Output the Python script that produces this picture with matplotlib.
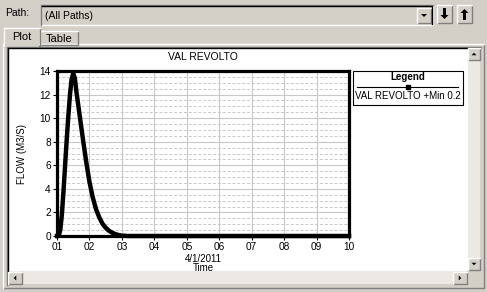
import matplotlib
matplotlib.use('Agg')
import matplotlib.pyplot as plt
from matplotlib.patches import Rectangle, Polygon
from matplotlib.ticker import MultipleLocator

plt.rcParams['font.family'] = ['Liberation Sans', 'DejaVu Sans']

# data (day of April 2011, flow m3/s)
days = [1.0, 1.05, 1.1, 1.15, 1.2, 1.25, 1.3, 1.35, 1.4, 1.45, 1.5, 1.55, 1.6, 1.7,
        1.8, 1.9, 2.0, 2.1, 2.2, 2.3, 2.4, 2.5, 2.6, 2.7, 2.8, 2.9, 3.0, 3.2, 4.0,
        6.0, 8.0, 10.0]
flow = [0.0, 0.0, 0.5, 1.8, 3.8, 6.0, 8.2, 10.2, 12.0, 13.3, 13.8, 13.4, 12.2, 10.2,
        8.2, 6.3, 4.6, 3.3, 2.3, 1.6, 1.05, 0.7, 0.45, 0.28, 0.16, 0.08, 0.03, 0.0,
        0.0, 0.0, 0.0, 0.0]
day_ticks = [1, 2, 3, 4, 5, 6, 7, 8, 9, 10]
day_labels = ['01', '02', '03', '04', '05', '06', '07', '08', '09', '10']
flow_ticks = [0, 2, 4, 6, 8, 10, 12, 14]

W, H = 487, 292
BG = '#d4d0c8'
DARK = '#808080'

fig = plt.figure(figsize=(W / 100, H / 100), dpi=100)
fig.patch.set_facecolor(BG)

# gui layer in pixel coordinates
g = fig.add_axes([0, 0, 1, 1])
g.set_xlim(0, W)
g.set_ylim(H, 0)
g.axis('off')


def box(x0, y0, x1, y1, fc=BG, sunken=False, z=1):
    g.add_patch(Rectangle((x0, y0), x1 - x0, y1 - y0, fc=fc, ec='none', zorder=z))
    hi, lo = ('white', DARK) if not sunken else (DARK, 'white')
    g.plot([x0, x1, x1], [y1, y1, y0], color=lo, lw=1, zorder=z + 0.1)
    g.plot([x0, x0, x1], [y1, y0, y0], color=hi, lw=1, zorder=z + 0.1)


def arrow(cx, cy, d, s=3):
    if d == 'down':
        pts = [(cx - s, cy - s / 2), (cx + s, cy - s / 2), (cx, cy + s / 2)]
    elif d == 'up':
        pts = [(cx - s, cy + s / 2), (cx + s, cy + s / 2), (cx, cy - s / 2)]
    elif d == 'left':
        pts = [(cx + s / 2, cy - s), (cx + s / 2, cy + s), (cx - s / 2, cy)]
    else:
        pts = [(cx - s / 2, cy - s), (cx - s / 2, cy + s), (cx + s / 2, cy)]
    g.add_patch(Polygon(pts, closed=True, fc='black', ec='none', zorder=5))


# path row
g.text(5, 13, 'Path:', fontsize=7.5, va='center', ha='left')
box(41, 5, 433, 25, sunken=True)
g.plot([42, 432, 432], [6, 6, 24], color='black', lw=1, zorder=2)
g.text(45, 16, '(All Paths)', fontsize=7.5, va='center', ha='left')
box(417, 8, 431, 23)
arrow(424, 15.5, 'down', 3)
box(437, 5, 452, 23)
g.add_patch(Rectangle((443, 8), 3, 7, fc='black', zorder=5))
arrow(444.5, 17, 'down', 4)
box(457, 5, 472, 23)
g.add_patch(Rectangle((463, 13), 3, 7, fc='black', zorder=5))
arrow(464.5, 11, 'up', 4)

# tabs and tab pane
box(3, 44, 484, 288)
box(40, 31, 78, 45)
box(4, 28, 40, 46)
g.add_patch(Rectangle((5, 43), 34, 4, fc=BG, ec='none', zorder=3))
g.text(22, 37, 'Plot', fontsize=8, ha='center', va='center', zorder=4)
g.text(59, 38.5, 'Table', fontsize=8, ha='center', va='center', zorder=4)

# white plot area with sunken frame
g.add_patch(Rectangle((8, 48), 460, 223, fc='white', ec='none', zorder=2))
g.plot([7, 7, 481], [285, 47, 47], color=DARK, lw=1, zorder=3)
g.plot([8, 8, 480], [284, 48, 48], color='black', lw=1, zorder=3)

# scrollbars
g.add_patch(Rectangle((468, 48), 12, 223, fc='#ece9e4', ec='none', zorder=2))
g.add_patch(Rectangle((8, 271), 460, 13, fc='#ece9e4', ec='none', zorder=2))
box(468, 48, 480, 60, z=3)
arrow(474, 54, 'up', 2.5)
box(468, 258, 480, 270, z=3)
arrow(474, 264, 'down', 2.5)
box(8, 272, 22, 284, z=3)
arrow(15, 278, 'left', 2.5)
box(453, 272, 467, 284, z=3)
arrow(460, 278, 'right', 2.5)
g.add_patch(Rectangle((468, 271), 12, 13, fc=BG, ec='none', zorder=3))

# legend box
g.add_patch(Rectangle((353, 71), 110, 34, fc='white', ec='black', lw=0.8, zorder=3))
g.text(408, 76.5, 'Legend', fontsize=7, fontweight='bold', ha='center', va='center', zorder=4)
g.plot([357, 458], [87, 87], color='black', lw=0.8, zorder=4)
g.plot([408], [87], marker='s', ms=2.5, color='black', zorder=4)
g.text(408, 96, 'VAL REVOLTO +Min 0.2', fontsize=7, ha='center', va='center', zorder=4)

# plot axes
x0, x1, y0, y1 = 57, 349, 71, 236
ax = fig.add_axes([x0 / W, 1 - y1 / H, (x1 - x0) / W, (y1 - y0) / H], zorder=5)
ax.set_facecolor('white')
ax.plot(days, flow, color='black', lw=3.2, solid_joinstyle='round', clip_on=False, zorder=4)
ax.set_xlim(1, 10)
ax.set_ylim(0, 14)
ax.set_xticks(day_ticks)
ax.set_xticklabels(day_labels)
ax.set_yticks(flow_ticks)
ax.yaxis.set_minor_locator(MultipleLocator(0.5))
ax.grid(True, which='major', color='#c8c8c8', lw=0.8)
ax.grid(True, which='minor', axis='y', color='#c8c8c8', lw=0.7, ls=(0, (3, 2)))
ax.tick_params(axis='both', which='major', labelsize=7.3, length=3, width=0.8, pad=1.5)
ax.tick_params(axis='both', which='minor', length=0)
for sp in ax.spines.values():
    sp.set_linewidth(2.3)
    sp.set_color('black')
ax.set_title('VAL REVOLTO', fontsize=7.5, pad=8)
ax.set_ylabel('FLOW (M3/S)', fontsize=7, labelpad=9)
ax.set_xlabel('4/1/2011\nTime', fontsize=7, labelpad=1, linespacing=0.95)

fig.savefig('out.png', dpi=100, facecolor=fig.get_facecolor())
